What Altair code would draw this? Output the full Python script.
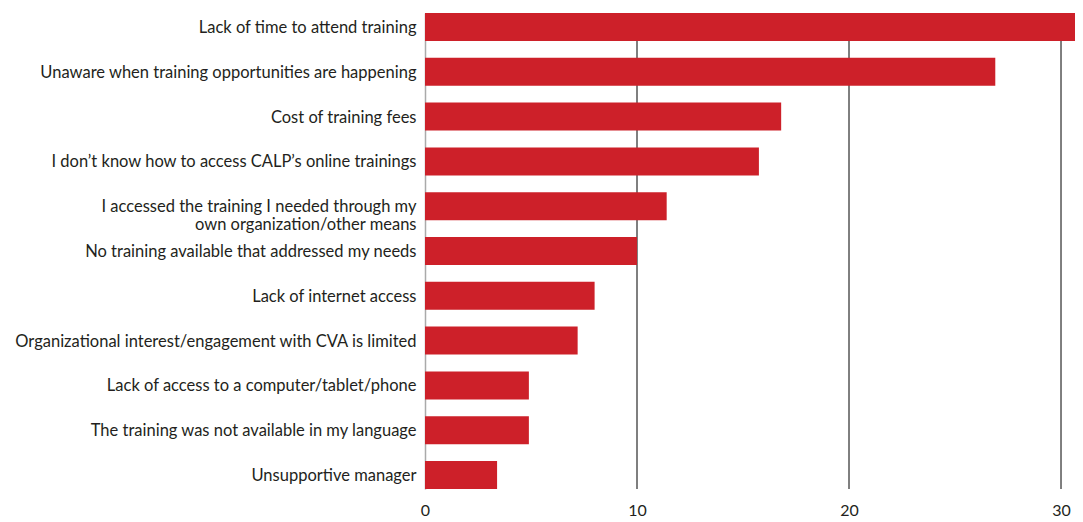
import altair as alt
import pandas as pd

categories = [
    "Lack of time to attend training",
    "Unaware when training opportunities are happening",
    "Cost of training fees",
    "I don\u2019t know how to access CALP\u2019s online trainings",
    "I accessed the training I needed through my|own organization/other means",
    "No training available that addressed my needs",
    "Lack of internet access",
    "Organizational interest/engagement with CVA is limited",
    "Lack of access to a computer/tablet/phone",
    "The training was not available in my language",
    "Unsupportive manager",
]
values = [31, 26.9, 16.8, 15.75, 11.4, 10, 8, 7.2, 4.9, 4.9, 3.4]
grid_values = [10, 20, 30]
tick_values = [0, 10, 20, 30]

df = pd.DataFrame({"category": categories, "value": values})
gdf = pd.DataFrame({"g": grid_values})

FONT = "Lato"
TEXT = "#231f20"

xscale = alt.Scale(domain=[0, 30.66], nice=False)

grid = alt.Chart(gdf).mark_rule(color="#555555", strokeWidth=1.5).encode(
    x=alt.X("g:Q", scale=xscale)
)

bars = alt.Chart(df).mark_bar(color="#cd2029", clip=True).encode(
    x=alt.X(
        "value:Q",
        scale=xscale,
        axis=alt.Axis(
            values=tick_values,
            grid=False,
            ticks=False,
            domain=False,
            title=None,
            labelFont=FONT,
            labelFontSize=16,
            labelColor=TEXT,
            labelPadding=13,
            labelFlush=False,
        ),
    ),
    y=alt.Y(
        "category:N",
        sort=categories,
        scale=alt.Scale(paddingInner=0.375, paddingOuter=0),
        axis=alt.Axis(
            title=None,
            ticks=False,
            domain=True,
            domainColor="#aaaaaa",
            domainWidth=1.5,
            labelFont=FONT,
            labelFontSize=16.5,
            labelColor=TEXT,
            labelPadding=9,
            labelOffset=1,
            labelLimit=600,
            labelLineHeight=18,
            labelExpr="split(datum.label, '|')",
        ),
    ),
)

chart = (
    alt.layer(grid, bars)
    .properties(
        width=650,
        height=476,
        autosize=alt.AutoSizeParams(type="none"),
        padding={"left": 417, "top": 5, "right": 0, "bottom": 28},
    )
    .configure_view(stroke=None)
)

chart.save("out.html", embed_options={"renderer": "svg", "actions": False})
